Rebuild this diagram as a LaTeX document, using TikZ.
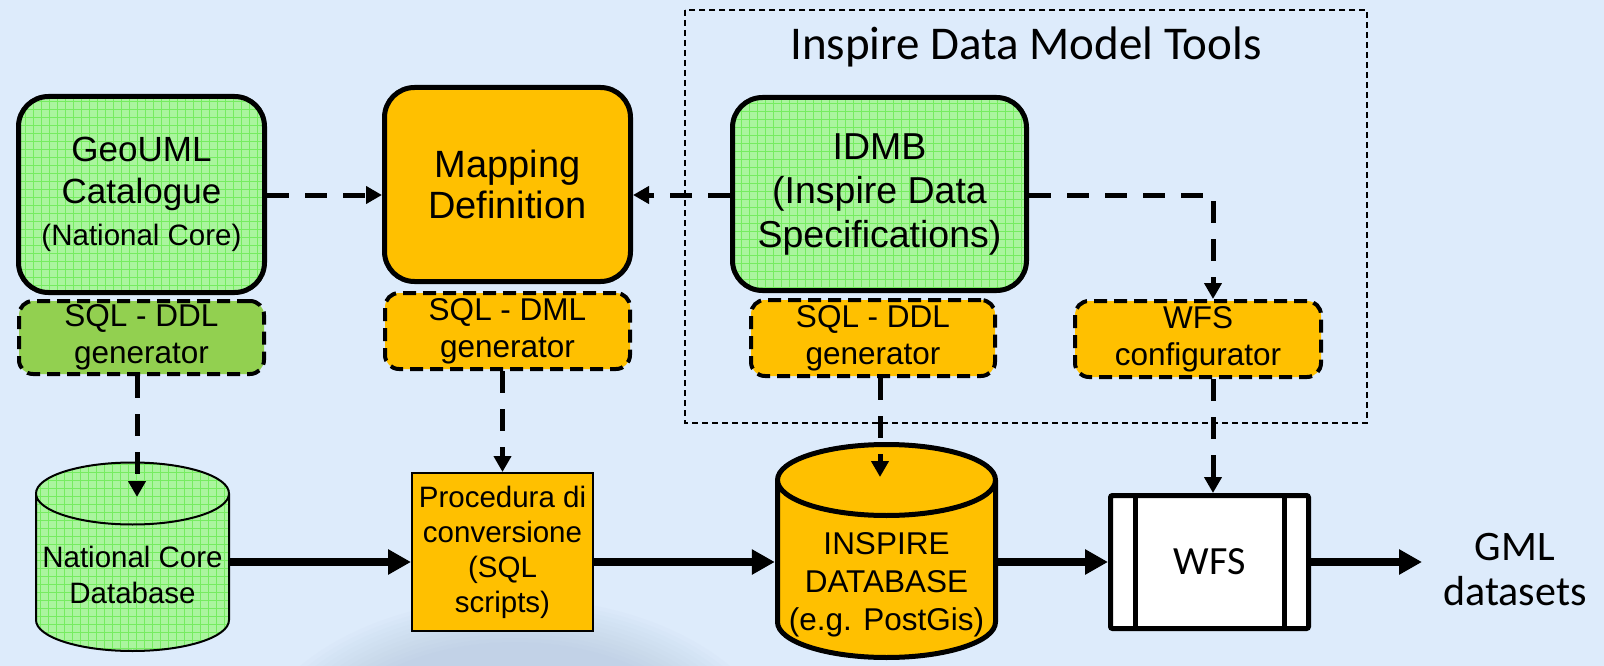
\documentclass[tikz,border=0pt]{standalone}
\usepackage{fontspec}
\setmainfont{Liberation Sans}
\newfontfamily\califont{Carlito}
\usetikzlibrary{arrows.meta}

\definecolor{bgblue}{RGB}{221,235,251}
\definecolor{gridbase}{RGB}{170,245,158}
\definecolor{gridline}{RGB}{118,236,96}
\definecolor{leaf}{RGB}{146,208,80}
\definecolor{amber}{RGB}{255,192,0}
\definecolor{haze}{RGB}{150,170,205}

% database drum: centre x, half width, top y, bottom y, half height of the ends, fill style, line width
\newcommand\drum[7]{%
  \path[#6] (#1-#2,#3) -- (#1-#2,#4)
     arc[start angle=180,end angle=360,x radius=#2pt,y radius=#5pt]
     -- (#1+#2,#3)
     arc[start angle=0,end angle=180,x radius=#2pt,y radius=#5pt] -- cycle;
  \draw[line width=#7pt, line join=round] (#1-#2,#3) -- (#1-#2,#4)
     arc[start angle=180,end angle=360,x radius=#2pt,y radius=#5pt]
     -- (#1+#2,#3)
     arc[start angle=0,end angle=180,x radius=#2pt,y radius=#5pt] -- cycle
     (#1-#2,#3) arc[start angle=180,end angle=360,x radius=#2pt,y radius=#5pt];
}

\tikzset{
  gridfill/.style={fill=gridbase, path picture={
      \draw[gridline, line width=0.7pt]
        (path picture bounding box.south west) grid[step=8pt]
        (path picture bounding box.north east);}},
  mainbox/.style={draw, line width=5pt, rounded corners=30pt, align=center, inner sep=0pt},
  genbox/.style={draw, line width=4pt, dash pattern=on 13pt off 7pt, rounded corners=14pt,
      fill=amber, align=center, inner sep=0pt, font=\fontsize{31.5}{37}\selectfont},
  flow/.style={line width=8pt, -{Triangle[length=23pt,width=24pt]}},
  feed/.style={line width=5pt, dash pattern=on 22pt off 16pt, -{Triangle[length=16pt,width=17pt]}},
}

\begin{document}
\begin{tikzpicture}[x=1pt,y=-1pt]
\useasboundingbox (0,0) rectangle (1604,666);
\fill[bgblue] (0,0) rectangle (1604,666);
% soft globe in the background
\begin{scope}
  \clip (0,0) rectangle (1604,666);
  \foreach \k in {0,...,11}
    \fill[haze, opacity=0.03] (515,770) ellipse[x radius=270-\k*6, y radius=172-\k*4];
\end{scope}

% tool group frame
\draw[line width=1.5pt, dash pattern=on 6pt off 4pt] (685,10) rectangle (1367,423);
\node[font=\califont\fontsize{47}{56}\selectfont] (title) at (1026,47) {Inspire Data Model Tools};

% upper row of components
\node[mainbox, gridfill, minimum width=246pt, minimum height=196pt, font=\fontsize{35}{42}\selectfont]
  (geo) at (141.5,194.5) {GeoUML\\Catalogue\\{\fontsize{29.5}{35}\selectfont (National Core)}};
\node[genbox, fill=leaf, minimum width=245pt, minimum height=73pt] (ddlA) at (141.5,337.5) {SQL - DDL\\generator};

\node[mainbox, fill=amber, minimum width=246pt, minimum height=194pt, font=\fontsize{38}{41}\selectfont]
  (map) at (507.5,184.5) {Mapping\\Definition};
\node[genbox, minimum width=245pt, minimum height=76pt] (dml) at (507.5,331) {SQL - DML\\generator};

\node[mainbox, gridfill, minimum width=294pt, minimum height=193pt, font=\fontsize{37.5}{44}\selectfont]
  (idmb) at (879.5,194) {IDMB\\(Inspire Data\\Specifications)};
\node[genbox, minimum width=244pt, minimum height=76pt] (ddlB) at (873,338) {SQL - DDL\\generator};
\node[genbox, minimum width=246pt, minimum height=76pt] (wfsc) at (1198,339) {WFS\\configurator};

% lower row: data stores and services
\drum{132.5}{96.5}{493.5}{620}{31}{gridfill}{2}
\node[align=center, inner sep=0pt, minimum width=195pt, font=\fontsize{29.5}{36}\selectfont]
  (ncdb) at (132.5,575) {National Core\\Database};

\node[draw, line width=2pt, fill=amber, minimum width=181pt, minimum height=158pt, align=center,
  inner sep=0pt, font=\fontsize{29.5}{35}\selectfont]
  (proc) at (502.5,552) {Procedura di\\conversione\\(SQL\\scripts)};

\drum{886.5}{109}{480}{622}{35.5}{fill=amber}{5}
\node[align=center, inner sep=0pt, minimum width=223pt, font=\fontsize{31.5}{38}\selectfont]
  (idb) at (886.5,585) {INSPIRE\\DATABASE\\(e.g. PostGis)};

\node[draw, line width=5pt, fill=white, rounded corners=2pt, minimum width=198pt, minimum height=133pt,
  font=\califont\fontsize{40}{48}\selectfont] (wfs) at (1209.5,562) {WFS};
\draw[line width=5pt] (1135,495.5) -- (1135,628.5) (1284,495.5) -- (1284,628.5);

\node[font=\califont\fontsize{42}{45}\selectfont, align=center] (gml) at (1515,570) {GML\\datasets};

% connectors
\coordinate (row) at (0,562);
\coordinate (upper) at (0,195);
\coordinate (bend) at (1213,195);
\coordinate (ncin) at (137,497);
\coordinate (idbin) at (880,477);
\coordinate (gmlin) at (1422,562);

\draw[flow] (ncdb.east |- row) -- (proc.west |- row);
\draw[flow] (proc.east |- row) -- (idb.west |- row);
\draw[flow] (idb.east |- row) -- (wfs.west |- row);
\draw[flow] (wfs.east |- row) -- (gmlin);

\draw[feed] (geo.east |- upper) -- (map.west |- upper);
\draw[feed] (idmb.west |- upper) -- (map.east |- upper);
\draw[feed] (idmb.east |- upper) -- (bend) -- (bend |- wfsc.north);
\draw[feed] (wfsc.south -| bend) -- (bend |- wfs.north);
\draw[feed] (ddlA.south -| ncin) -- (ncin);
\draw[feed] (dml.south -| proc.north) -- (proc.north);
\draw[feed] (ddlB.south -| idbin) -- (idbin);
\end{tikzpicture}
\end{document}
